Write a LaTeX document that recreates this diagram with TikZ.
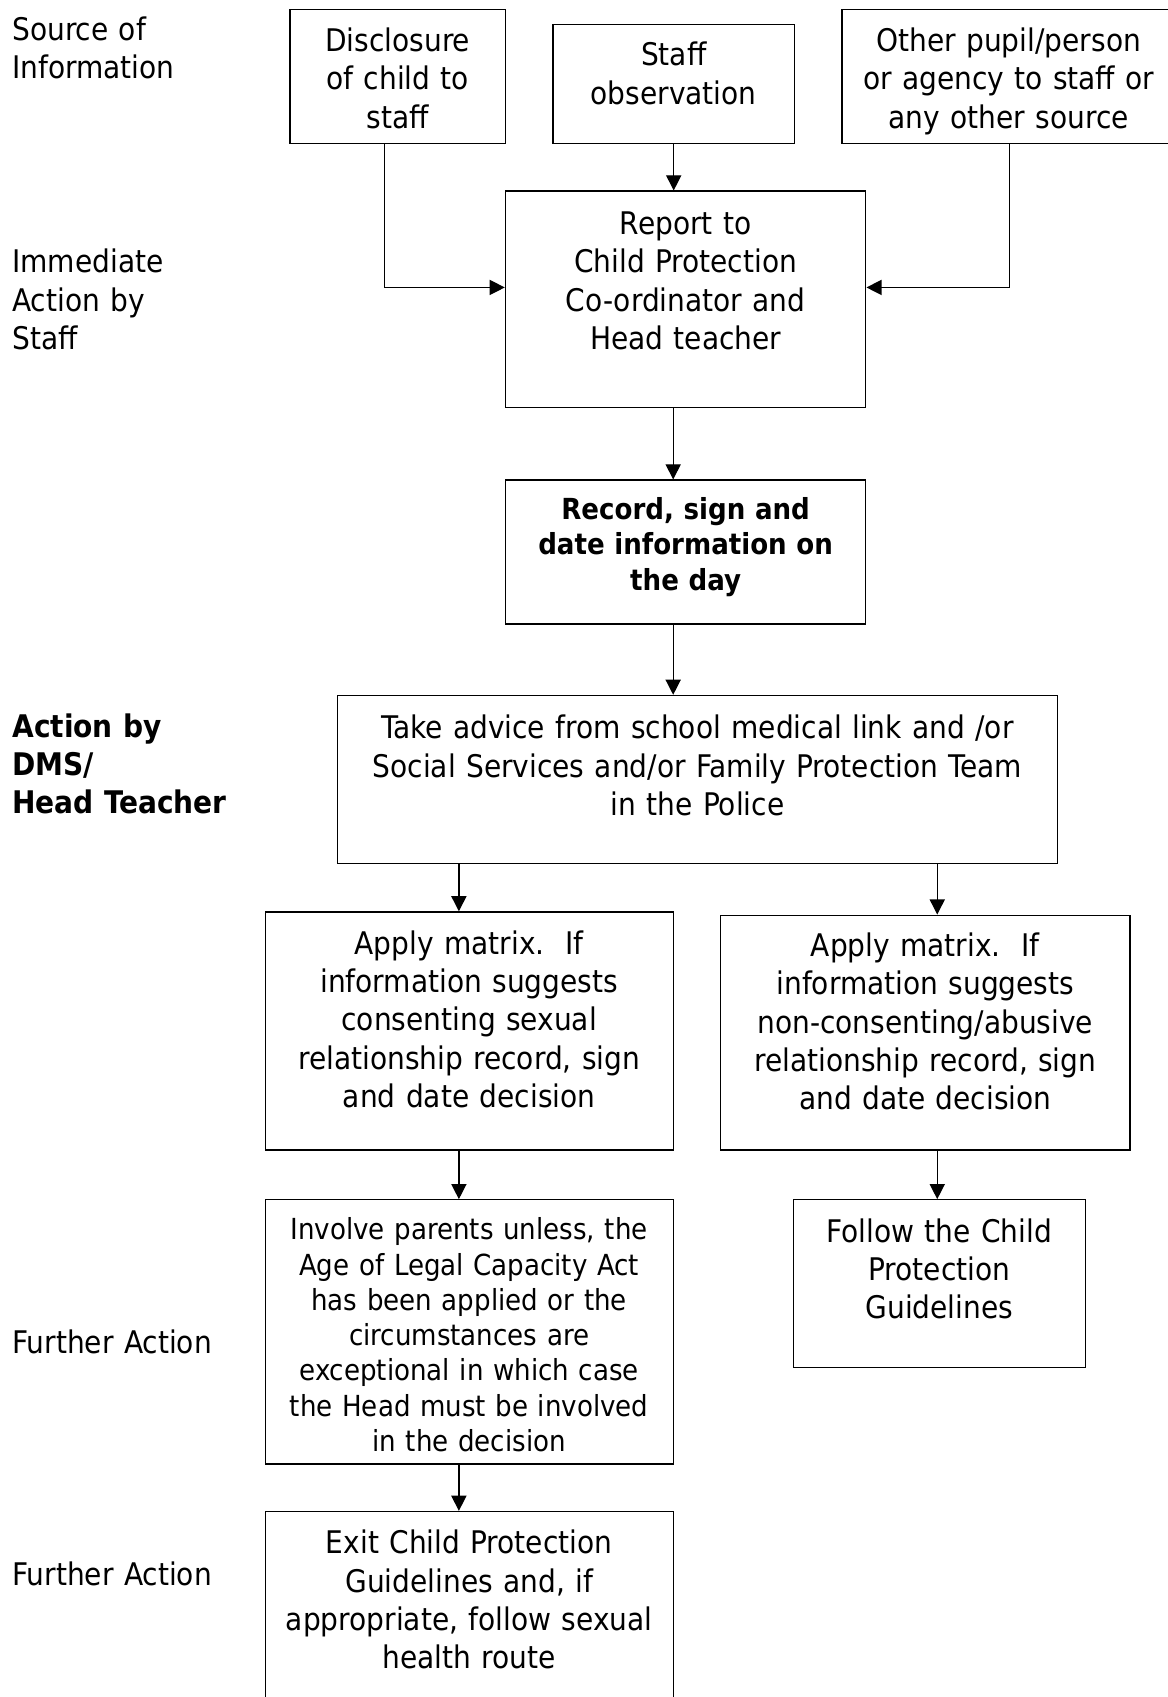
\documentclass[tikz,border=0pt]{standalone}
\usepackage{fontspec}
\setmainfont{DejaVu Sans Condensed}
\usetikzlibrary{arrows.meta,calc}

\begin{document}
\begin{tikzpicture}[x=0.5pt,y=-0.5pt,
  box/.style={draw,line width=0.6pt,align=center,inner xsep=0pt,inner ysep=0pt,anchor=north,
    font=\fontsize{14.4}{17.75}\selectfont},
  small/.style={font=\fontsize{13.4}{16.3}\selectfont},
  arr/.style={-{Triangle[length=7pt,width=7pt]},line width=0.6pt},
  lbl/.style={anchor=base west,align=left,text width=120pt,inner sep=0pt,
    font=\fontsize{14.4}{17.75}\selectfont}]
  \useasboundingbox (0,0) rectangle (1079,1568);

  % stage labels
  \node[lbl] (lsrc) at (11,37) {Source of\\Information};
  \node[lbl] (limm) at (11,252) {Immediate\\Action by\\Staff};
  \node[lbl,font=\fontsize{14.4}{17.75}\selectfont\bfseries] (ldms) at (11,681) {Action by\\DMS/\\Head Teacher};
  \node[lbl] (lfur) at (11,1251) {Further Action};
  \node[lbl] (lfur2) at (11,1465) {Further Action};

  % sources
  \node[box,text width=99.5pt,text height=19.5pt,text depth=42.5pt] (disc) at (367.5,8) {Disclosure\\of child to\\staff};
  \node[box,text width=111.5pt,text height=19pt,text depth=36pt] (staff) at (622.5,22) {Staff\\observation};
  \node[box,text width=154pt,text height=19.5pt,text depth=42.5pt] (other) at (932,8) {Other pupil/person\\or agency to staff or\\any other source};

  % immediate action
  \node[box,text width=166.5pt,text height=20pt,text depth=80pt] (report) at (633.5,176) {Report to\\Child Protection\\Co-ordinator and\\Head teacher};
  \node[box,text width=166.5pt,text height=18pt,text depth=48.5pt,
    font=\fontsize{13.4}{16.5}\selectfont\bfseries] (record) at (633.5,443) {Record, sign and\\date information on\\the day};

  % DMS / head teacher
  \node[box,text width=332.5pt,text height=20pt,text depth=57.5pt] (take) at (644.5,642) {Take advice from school medical link and /or\\Social Services and/or Family Protection Team\\in the Police};
  \node[box,text width=188.5pt,text height=19.5pt,text depth=90.5pt] (apL) at (433.5,842) {Apply matrix.\ \ If\\information suggests\\consenting sexual\\relationship record, sign\\and date decision};
  \node[box,text width=189pt,text height=19pt,text depth=89.5pt] (apR) at (855,845) {Apply matrix.\ \ If\\information suggests\\non-consenting/abusive\\relationship record, sign\\and date decision};

  % further action
  \node[box,small,text width=188.5pt,text height=18.5pt,text depth=103.5pt] (inv) at (433.5,1108) {Involve parents unless, the\\Age of Legal Capacity Act\\has been applied or the\\circumstances are\\exceptional in which case\\the Head must be involved\\in the decision};
  \node[box,text width=135pt,text height=19.5pt,text depth=58pt] (follow) at (868,1108) {Follow the Child\\Protection\\Guidelines};
  \node[box,text width=188.5pt,text height=19.5pt,text depth=72.5pt] (exit) at (433.5,1396) {Exit Child Protection\\Guidelines and, if\\appropriate, follow sexual\\health route};

  % arrows
  \coordinate (spine) at (622,0);
  \coordinate (colL) at (424,0);
  \coordinate (colR) at (866,0);
  \draw[arr] ([xshift=-6.25pt]disc.south) |- ([yshift=5.5pt]report.west);
  \draw[arr] (staff.south) -- (staff.south |- report.north);
  \draw[arr] ([xshift=0.5pt]other.south) |- ([yshift=5.5pt]report.east);
  \draw[arr] (report.south -| spine) -- (record.north -| spine);
  \draw[arr] (record.south -| spine) -- (take.north -| spine);
  \draw[arr] (take.south -| colL) -- (apL.north -| colL);
  \draw[arr] (take.south -| colR) -- (apR.north -| colR);
  \draw[arr] (apL.south -| colL) -- (inv.north -| colL);
  \draw[arr] (apR.south -| colR) -- (follow.north -| colR);
  \draw[arr] (inv.south -| colL) -- (exit.north -| colL);
\end{tikzpicture}
\end{document}
